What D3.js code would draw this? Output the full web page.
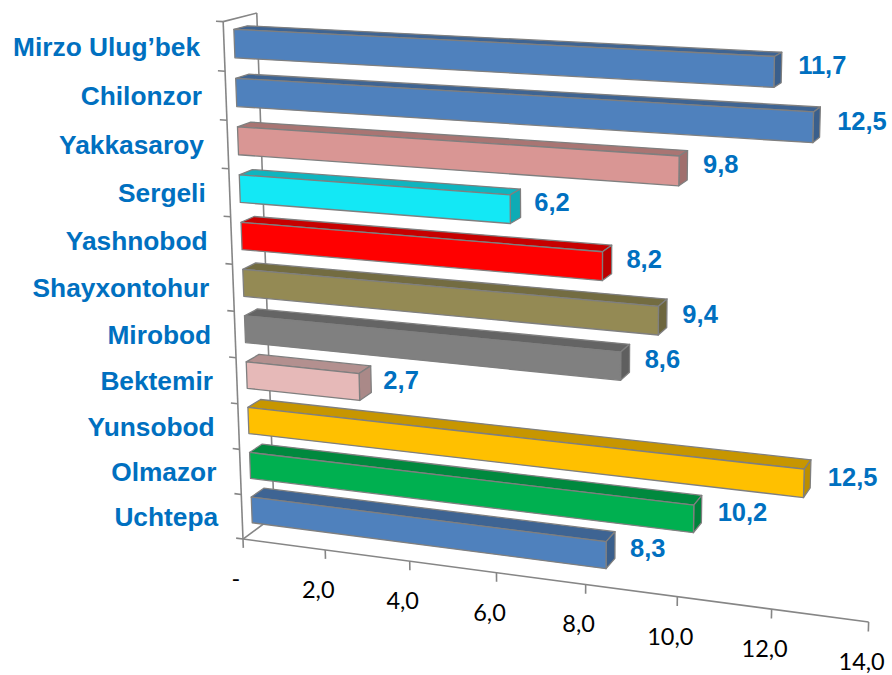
<!DOCTYPE html>
<html>
<head>
<meta charset="utf-8">
<script src="https://cdn.jsdelivr.net/npm/d3@7"></script>
<style>
  body { margin: 0; background: #fff; }
  svg { display: block; }
</style>
</head>
<body>
<div id="chart"></div>
<script>
// data, top to bottom as in the chart
const districts = ["Mirzo Ulug’bek", "Chilonzor", "Yakkasaroy", "Sergeli", "Yashnobod",
                   "Shayxontohur", "Mirobod", "Bektemir", "Yunsobod", "Olmazor", "Uchtepa"];
const values = [11.7, 12.5, 9.8, 6.2, 8.2, 9.4, 8.6, 2.7, 12.5, 10.2, 8.3];
const barColors = ["#4F81BD", "#4F81BD", "#D99694", "#13E8F5", "#FF0000",
                   "#948A54", "#808080", "#E6B9B8", "#FFC000", "#00B050", "#4F81BD"];
const tickValues = [0, 2, 4, 6, 8, 10, 12, 14];

const width = 892, height = 675;
const S = 500; // pixel normalisation for the fit

// screen position (px) of a few corners of the 3D plot box: [x, y, z, px, py]
// x = value axis (0..1), y = category axis (0..1, bottom up), z = depth (0 front .. 1 back)
const frameAnchors = [
  [0, 0, 0, 243, 539],
  [1, 0, 0, 868, 622],
  [0, 1, 0, 223, 22],
  [1, 1, 0, 888, 54],
  [0, 1, 1, 257, 13],
  [0, 0, 1, 274, 516],
  [4 / 14, 0, 0, 410, 561],
  [10 / 14, 0, 0, 678, 597],
  [0, 5 / 11, 0, 234, 311]
];
const barDepth = [0.3, 0.7];

// least squares fit of a 3x4 perspective matrix (DLT, last entry = 1)
function fitProjection(pts) {
  const n = 11;
  const M = d3.range(n).map(() => new Array(n + 1).fill(0));
  const addRow = (row, rhs) => {
    for (let i = 0; i < n; i++) {
      for (let j = 0; j < n; j++) M[i][j] += row[i] * row[j];
      M[i][n] += row[i] * rhs;
    }
  };
  pts.forEach(([X, Y, Z, px, py]) => {
    const u = px / S, v = py / S;
    addRow([X, Y, Z, 1, 0, 0, 0, 0, -u * X, -u * Y, -u * Z], u);
    addRow([0, 0, 0, 0, X, Y, Z, 1, -v * X, -v * Y, -v * Z], v);
  });
  for (let i = 0; i < n; i++) {
    let p = i;
    for (let r = i + 1; r < n; r++) if (Math.abs(M[r][i]) > Math.abs(M[p][i])) p = r;
    [M[i], M[p]] = [M[p], M[i]];
    for (let r = 0; r < n; r++) {
      if (r === i) continue;
      const f = M[r][i] / M[i][i];
      for (let c = i; c <= n; c++) M[r][c] -= f * M[i][c];
    }
  }
  return M.map((row, i) => row[n] / row[i]);
}

const P = fitProjection(frameAnchors);
function project(x, y, z) {
  const w = P[8] * x + P[9] * y + P[10] * z + 1;
  return [S * (P[0] * x + P[1] * y + P[2] * z + P[3]) / w,
          S * (P[4] * x + P[5] * y + P[6] * z + P[7]) / w];
}

const xScale = d3.scaleLinear().domain([0, 14]).range([0, 1]);
const yScale = d3.scaleBand()
    .domain(districts)
    .range([1, 0])
    .paddingInner(0.42)
    .paddingOuter(0.21);

const locale = d3.formatLocale({decimal: ",", thousands: " ", grouping: [3], currency: ["", ""]});
const fmt = locale.format(".1f");

const svg = d3.select("#chart")
  .append("svg")
    .attr("width", width)
    .attr("height", height)
    .style("background", "#fff");

const line = d3.line();
const poly = pts => "M" + pts.map(p => project(...p).join(",")).join("L") + "Z";

// walls / axis frame
const axisColor = "#868686";
const frame = svg.append("g")
    .attr("fill", "none")
    .attr("stroke", axisColor)
    .attr("stroke-width", 1.6);

const frameLines = [
  [[0, 1, 0], [0, 1, 1]],   // top edge of side wall
  [[0, 1, 1], [0, 0, 1]],   // back edge of side wall
  [[0, 0, 0], [0, 0, 1]],   // floor edge
  [[0, 0, 0], [0, 1, 0]],   // category axis
  [[0, 0, 0], [1, 0, 0]]    // value axis
];
frame.selectAll("path.frame")
  .data(frameLines)
  .join("path")
    .attr("class", "frame")
    .attr("d", d => line(d.map(p => project(...p))));

// category ticks (between bands)
const step = yScale.step();
frame.selectAll("path.ytick")
  .data(d3.range(districts.length + 1))
  .join("path")
    .attr("class", "ytick")
    .attr("d", k => line([project(0, k * step, 0), project(-0.012, k * step, 0)]));

// value ticks
frame.selectAll("path.xtick")
  .data(tickValues)
  .join("path")
    .attr("class", "xtick")
    .attr("d", v => line([project(xScale(v), 0, 0), project(xScale(v), -0.018, 0)]));

// value tick labels
svg.append("g")
  .selectAll("text")
  .data(tickValues)
  .join("text")
    .attr("x", v => project(xScale(v), 0, 0)[0] - 7)
    .attr("y", v => project(xScale(v), 0, 0)[1] + 48)
    .attr("text-anchor", "middle")
    .style("font-family", "Lato, 'Open Sans', sans-serif")
    .style("font-size", "23.5px")
    .style("fill", "#000")
    .text(v => v === 0 ? "-" : fmt(v));

// bars
const rows = districts.map((name, i) => ({name, value: values[i], color: barColors[i]}));
const [z0, z1] = barDepth;

const bars = svg.append("g")
  .selectAll("g.bar")
  .data(rows)
  .join("g")
    .attr("class", "bar")
    .attr("stroke", "#7F7F7F")
    .attr("stroke-width", 1.3)
    .attr("stroke-linejoin", "round");

bars.append("path") // top
    .attr("fill", d => d3.color(d.color).darker(0.7))
    .attr("d", d => {
      const x1 = xScale(d.value), yt = yScale(d.name) + yScale.bandwidth();
      return poly([[0, yt, z0], [x1, yt, z0], [x1, yt, z1], [0, yt, z1]]);
    });

bars.append("path") // end
    .attr("fill", d => d3.color(d.color).darker(0.85))
    .attr("d", d => {
      const x1 = xScale(d.value), yb = yScale(d.name), yt = yb + yScale.bandwidth();
      return poly([[x1, yb, z0], [x1, yt, z0], [x1, yt, z1], [x1, yb, z1]]);
    });

bars.append("path") // front
    .attr("fill", d => d.color)
    .attr("d", d => {
      const x1 = xScale(d.value), yb = yScale(d.name), yt = yb + yScale.bandwidth();
      return poly([[0, yb, z0], [x1, yb, z0], [x1, yt, z0], [0, yt, z0]]);
    });

const labelFont = "'Liberation Sans', Arial, sans-serif";
const blue = "#0070C0";

// value labels
svg.append("g")
  .selectAll("text")
  .data(rows)
  .join("text")
    .attr("x", d => project(xScale(d.value), yScale(d.name) + yScale.bandwidth() / 2, z0)[0] + 24)
    .attr("y", d => project(xScale(d.value), yScale(d.name) + yScale.bandwidth() / 2, z0)[1] - 7)
    .attr("dy", "0.36em")
    .style("font-family", labelFont)
    .style("font-weight", "bold")
    .style("font-size", "25.5px")
    .style("fill", blue)
    .text(d => fmt(d.value));

// category labels
svg.append("g")
  .selectAll("text")
  .data(rows)
  .join("text")
    .attr("x", d => project(0, yScale(d.name) + yScale.bandwidth() / 2, 0)[0] - 24)
    .attr("y", d => project(0, yScale(d.name) + yScale.bandwidth() / 2, 0)[1])
    .attr("dy", "0.36em")
    .attr("text-anchor", "end")
    .style("font-family", labelFont)
    .style("font-weight", "bold")
    .style("font-size", "26.3px")
    .style("fill", blue)
    .text(d => d.name);
</script>
</body>
</html>
